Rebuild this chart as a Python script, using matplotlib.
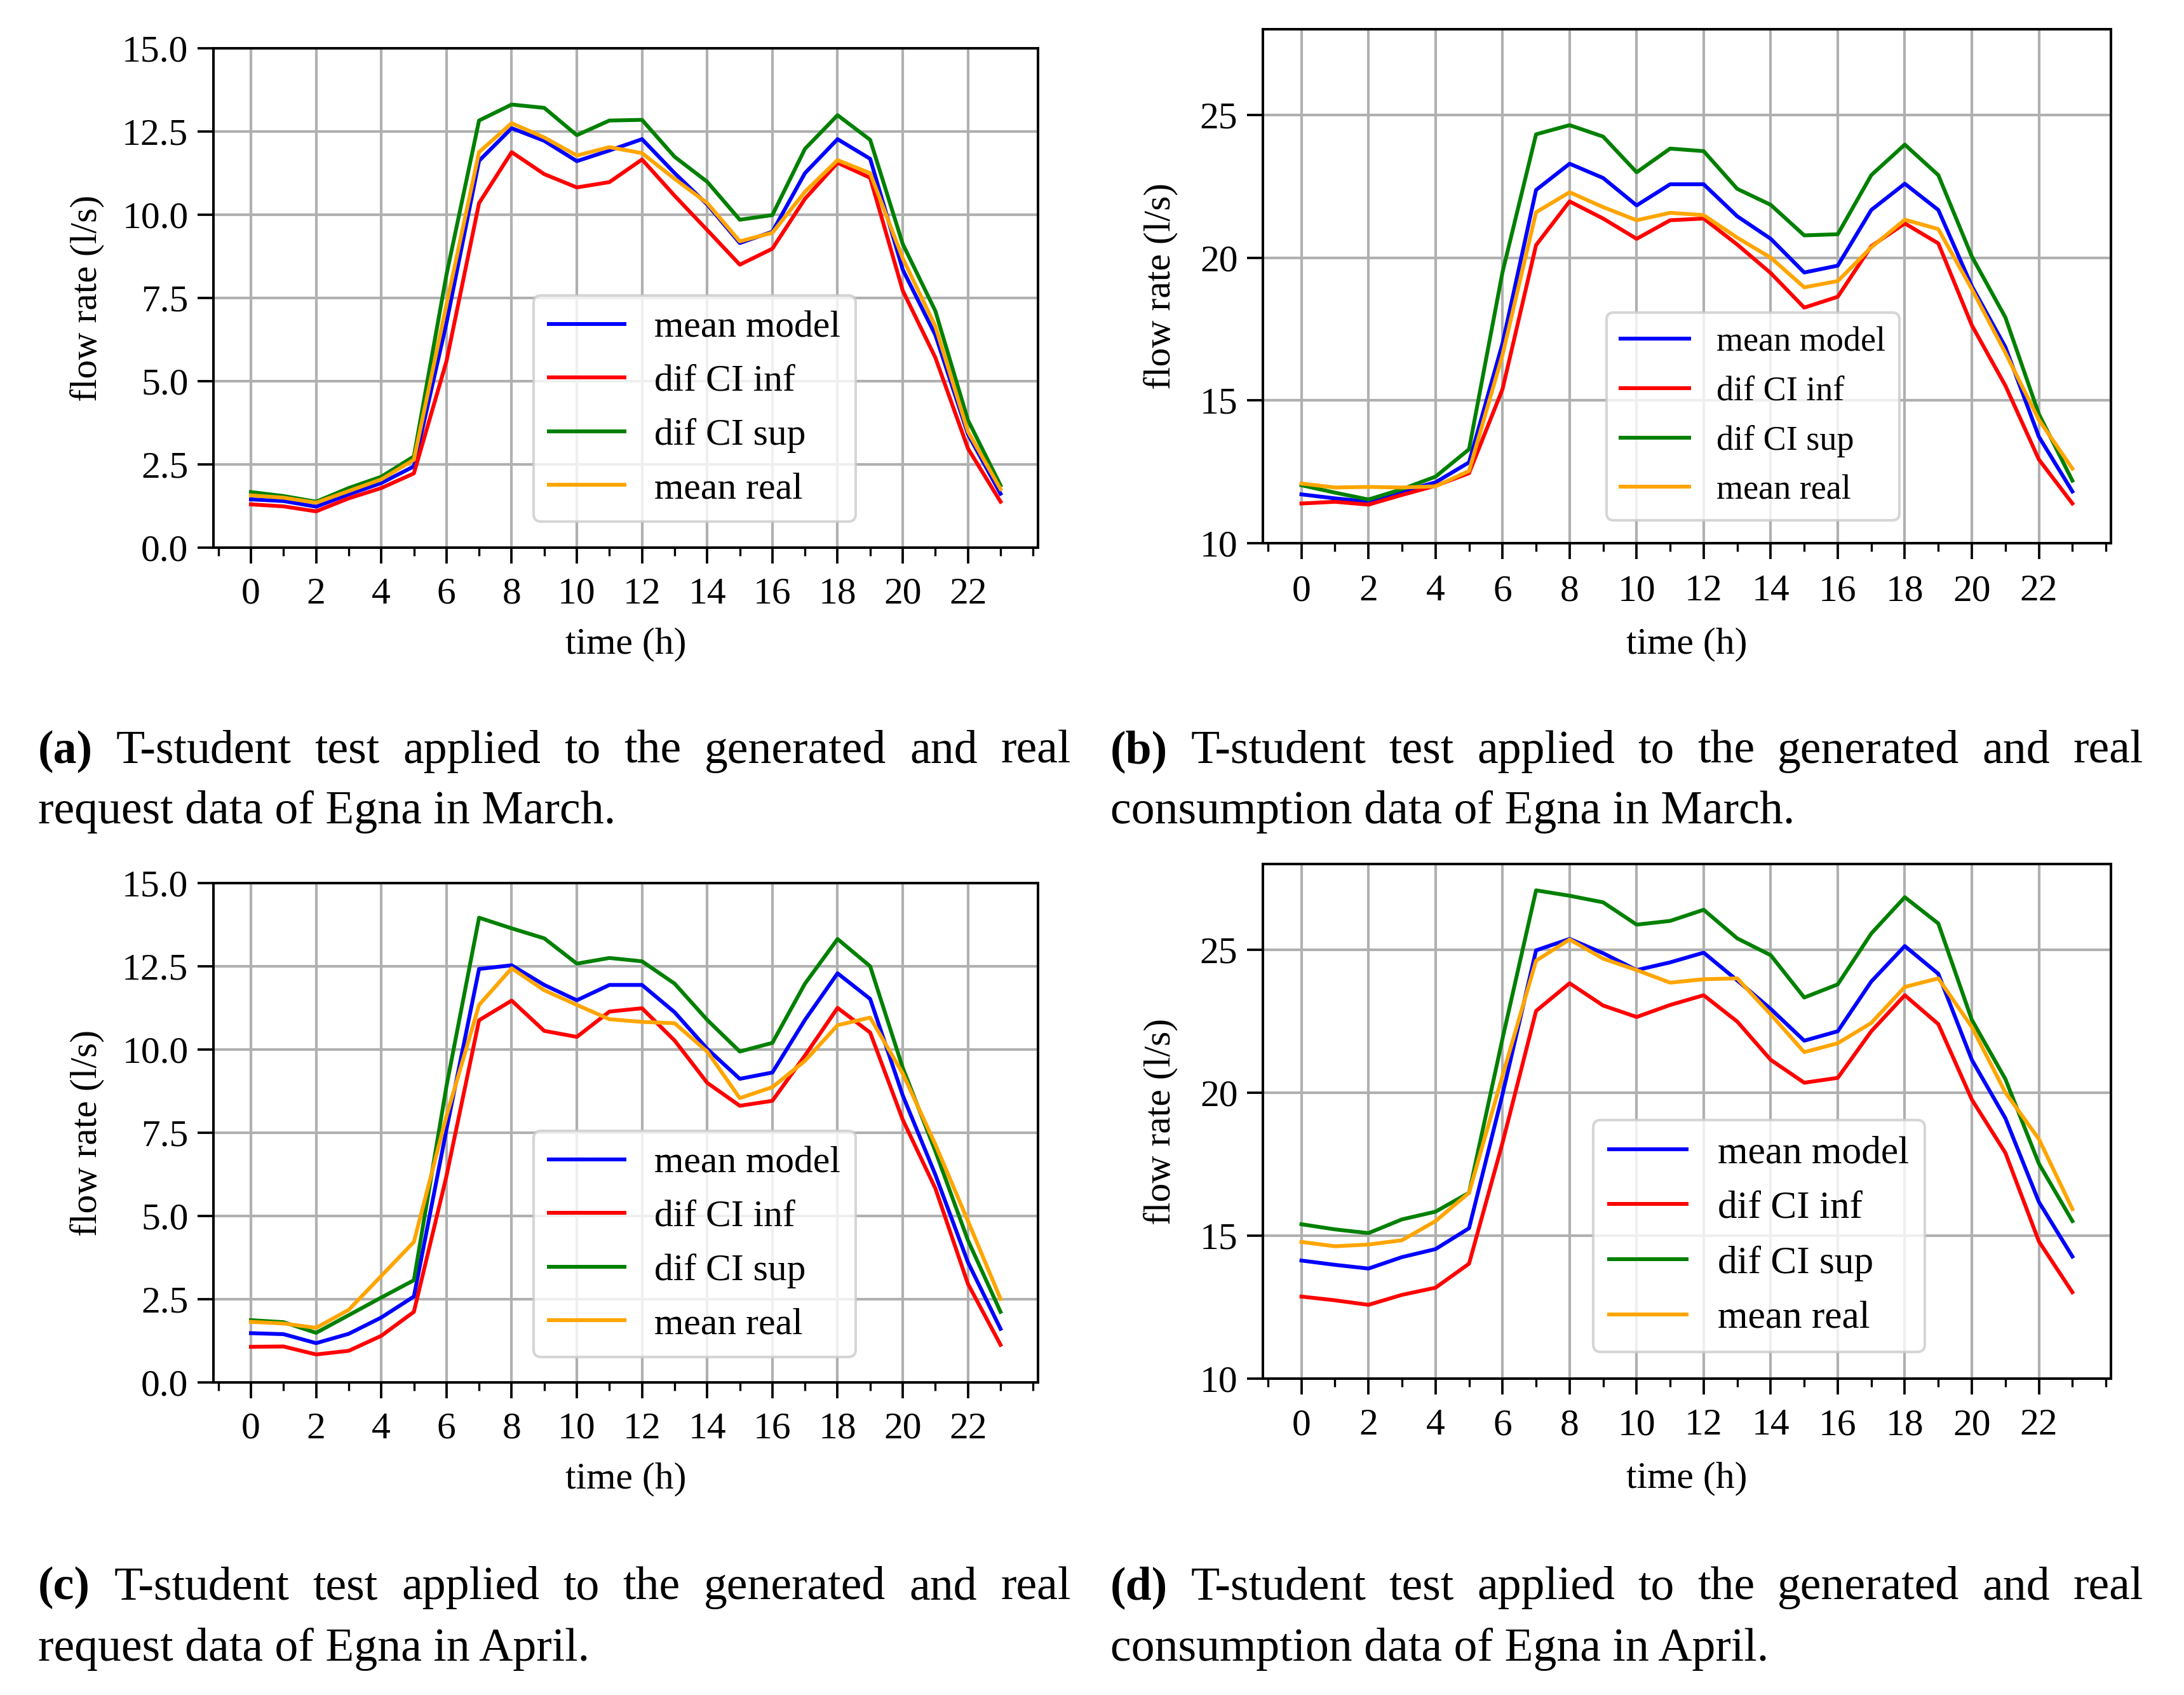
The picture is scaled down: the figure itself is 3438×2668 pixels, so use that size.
import matplotlib
matplotlib.use("Agg")
import matplotlib.pyplot as plt
from matplotlib.ticker import MultipleLocator

plt.rcParams['font.family'] = ['Liberation Serif', 'DejaVu Serif']

hours = list(range(24))
xticks = list(range(0, 24, 2))
labels = ["mean model", "dif CI inf", "dif CI sup", "mean real"]
colors = ["blue", "red", "green", "orange"]

a_model = [1.45, 1.40, 1.23, 1.60, 1.94, 2.44, 6.75, 11.62, 12.60, 12.22, 11.61, 11.93, 12.27, 11.25, 10.31, 9.15, 9.49, 11.25, 12.27, 11.68, 8.35, 6.39, 3.41, 1.62]
a_inf = [1.30, 1.24, 1.09, 1.48, 1.79, 2.23, 5.6, 10.35, 11.88, 11.22, 10.82, 10.98, 11.66, 10.57, 9.54, 8.50, 8.98, 10.48, 11.56, 11.11, 7.72, 5.71, 2.98, 1.38]
a_sup = [1.67, 1.55, 1.38, 1.79, 2.13, 2.74, 8.2, 12.83, 13.31, 13.21, 12.39, 12.83, 12.85, 11.74, 10.99, 9.85, 9.99, 11.98, 12.99, 12.25, 9.12, 7.11, 3.83, 1.87]
a_real = [1.57, 1.50, 1.35, 1.70, 2.05, 2.64, 7.3, 11.88, 12.75, 12.32, 11.78, 12.03, 11.85, 11.08, 10.35, 9.20, 9.46, 10.69, 11.64, 11.25, 8.69, 6.65, 3.49, 1.76]

b_model = [11.71, 11.57, 11.45, 11.81, 12.13, 12.83, 17.0, 22.37, 23.29, 22.79, 21.83, 22.57, 22.57, 21.45, 20.66, 19.48, 19.72, 21.67, 22.59, 21.67, 19.0, 16.87, 13.73, 11.81]
b_inf = [11.39, 11.45, 11.35, 11.69, 12.01, 12.45, 15.4, 20.44, 21.97, 21.37, 20.66, 21.31, 21.37, 20.46, 19.46, 18.25, 18.63, 20.40, 21.20, 20.50, 17.63, 15.52, 12.93, 11.39]
b_sup = [12.03, 11.77, 11.53, 11.89, 12.33, 13.29, 19.5, 24.32, 24.64, 24.24, 22.99, 23.82, 23.73, 22.41, 21.85, 20.78, 20.82, 22.89, 23.96, 22.89, 20.04, 17.91, 14.52, 12.19]
b_real = [12.09, 11.95, 11.97, 11.95, 11.99, 12.53, 16.6, 21.59, 22.29, 21.77, 21.31, 21.57, 21.49, 20.70, 20.00, 18.96, 19.18, 20.36, 21.33, 21.00, 18.90, 16.67, 14.32, 12.61]

c_model = [1.48, 1.45, 1.18, 1.46, 1.95, 2.58, 7.6, 12.42, 12.53, 11.94, 11.48, 11.94, 11.94, 11.12, 10.02, 9.12, 9.31, 10.89, 12.29, 11.52, 8.62, 6.24, 3.61, 1.61]
c_inf = [1.07, 1.08, 0.84, 0.95, 1.40, 2.12, 6.2, 10.88, 11.47, 10.56, 10.38, 11.14, 11.24, 10.27, 9.00, 8.31, 8.46, 9.82, 11.25, 10.51, 7.89, 5.83, 2.96, 1.13]
c_sup = [1.87, 1.81, 1.49, 2.02, 2.55, 3.07, 8.9, 13.96, 13.64, 13.34, 12.58, 12.75, 12.65, 11.98, 10.89, 9.94, 10.20, 11.98, 13.32, 12.50, 9.45, 6.95, 4.27, 2.12]
c_real = [1.82, 1.77, 1.64, 2.18, 3.20, 4.22, 8.0, 11.34, 12.44, 11.78, 11.34, 10.91, 10.83, 10.79, 9.94, 8.54, 8.87, 9.66, 10.73, 10.96, 9.28, 7.15, 4.85, 2.51]

d_model = [14.13, 13.98, 13.85, 14.25, 14.53, 15.26, 19.95, 24.98, 25.38, 24.88, 24.29, 24.56, 24.90, 23.93, 22.93, 21.82, 22.15, 23.89, 25.13, 24.16, 21.15, 19.11, 16.18, 14.27]
d_inf = [12.87, 12.74, 12.58, 12.93, 13.18, 14.02, 18.25, 22.86, 23.83, 23.05, 22.65, 23.07, 23.41, 22.49, 21.15, 20.35, 20.52, 22.15, 23.41, 22.40, 19.76, 17.90, 14.80, 13.02]
d_sup = [15.40, 15.22, 15.09, 15.57, 15.84, 16.50, 21.9, 27.08, 26.89, 26.66, 25.88, 26.01, 26.40, 25.40, 24.81, 23.33, 23.79, 25.57, 26.84, 25.92, 22.55, 20.48, 17.52, 15.51]
d_real = [14.78, 14.63, 14.69, 14.84, 15.51, 16.50, 20.6, 24.62, 25.36, 24.69, 24.29, 23.85, 23.97, 24.00, 22.74, 21.42, 21.73, 22.44, 23.70, 24.00, 22.30, 20.01, 18.38, 15.93]

cap_line1 = "T-student test applied to the generated and real"
cap_tags = ["(a)", "(b)", "(c)", "(d)"]
cap_line2 = ["request data of Egna in March.",
             "consumption data of Egna in March.",
             "request data of Egna in April.",
             "consumption data of Egna in April."]

W, H = 3438, 2668
DPI = 300
fig = plt.figure(figsize=(W / DPI, H / DPI), dpi=DPI)

FS = 14.3

# axes boxes in pixels: left, right, top, bottom
boxes = [(336, 1634, 76, 862), (1988, 3323, 46, 855),
         (336, 1634, 1390, 2176), (1988, 3323, 1360, 2170)]
series = [(a_model, a_inf, a_sup, a_real), (b_model, b_inf, b_sup, b_real),
          (c_model, c_inf, c_sup, c_real), (d_model, d_inf, d_sup, d_real)]
ylims = [(0, 15), (10, 28), (0, 15), (10, 28)]
yticks = [[0, 2.5, 5, 7.5, 10, 12.5, 15], [10, 15, 20, 25],
          [0, 2.5, 5, 7.5, 10, 12.5, 15], [10, 15, 20, 25]]
yfmt = ["{:.1f}", "{:.0f}", "{:.1f}", "{:.0f}"]
leg_fs = [14.3, 13.0, 14.3, 14.7]
leg_pos = [(0.5836, 0.2786), (0.578, 0.2466), (0.5836, 0.2774), (0.585, 0.2772)]
xlabelpads = [6.0, 7.0, 6.0, 7.0]
xtickpads = [5.2, 5.8, 5.2, 5.4]
ylabelpads = [6.6, 8.2, 6.6, 8.2]

for i in range(4):
    l, r, t, b = boxes[i]
    ax = fig.add_axes([l / W, 1 - b / H, (r - l) / W, (b - t) / H])
    for vals, lab, col in zip(series[i], labels, colors):
        ax.plot(hours, vals, color=col, lw=1.45, label=lab)
    ax.set_ylim(*ylims[i])
    ax.set_xticks(xticks)
    ax.xaxis.set_minor_locator(MultipleLocator(1))
    ax.set_yticks(yticks[i])
    ax.set_yticklabels([yfmt[i].format(v) for v in yticks[i]])
    ax.grid(True, which='major', color='#b0b0b0', linewidth=1.0)
    ax.set_axisbelow(True)
    ax.tick_params(which='major', length=6, width=0.9, labelsize=FS)
    ax.tick_params(axis='x', which='major', pad=xtickpads[i])
    ax.tick_params(which='minor', length=3.2, width=0.8)
    for s in ax.spines.values():
        s.set_linewidth(0.95)
    ax.set_xlabel("time (h)", fontsize=FS, labelpad=xlabelpads[i])
    ax.set_ylabel("flow rate (l/s)", fontsize=FS, labelpad=ylabelpads[i])
    ax.legend(loc='center', bbox_to_anchor=leg_pos[i], borderaxespad=0,
              fontsize=leg_fs[i])

# captions
CAP_FS = 17.7
cols = [(60, 1686), (1748, 3374)]
rows = [(1201, 1296), (2517, 2614)]
fig.canvas.draw()
renderer = fig.canvas.get_renderer()

for i in range(4):
    x0, x1 = cols[i % 2]
    y1, y2 = rows[i // 2]
    words = [cap_tags[i]] + cap_line1.split()
    objs = []
    for k, w in enumerate(words):
        o = fig.text(0, 1 - y1 / H, w, fontsize=CAP_FS, va='baseline', ha='left',
                     fontweight='bold' if k == 0 else 'normal')
        objs.append(o)
    widths = [o.get_window_extent(renderer).width for o in objs]
    gap = (x1 - x0 - sum(widths)) / (len(words) - 1)
    xp = x0
    for o, wd in zip(objs, widths):
        o.set_x(xp / W)
        xp += wd + gap
    fig.text(x0 / W, 1 - y2 / H, cap_line2[i], fontsize=CAP_FS, va='baseline', ha='left')

fig.savefig("out.png", dpi=DPI)
